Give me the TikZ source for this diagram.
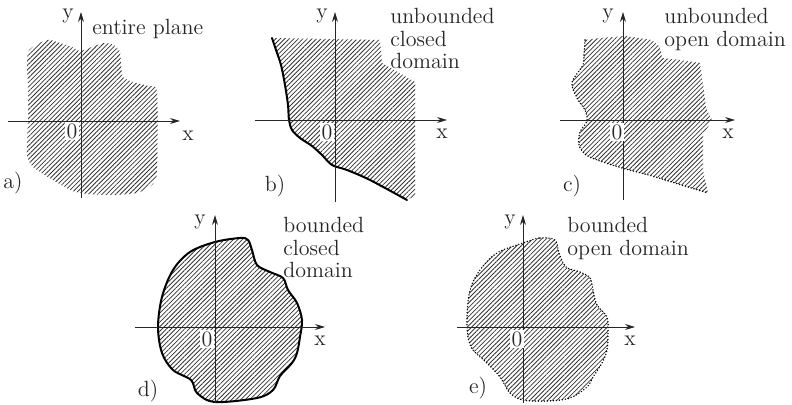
\documentclass[tikz,border=0pt]{standalone}
\usepackage{tikz}
\usetikzlibrary{arrows.meta,patterns.meta}
\tikzset{
  axisline/.style={-{Stealth[length=5pt,width=3pt]}, line width=0.45pt, draw=black!85},
  hatch/.style={pattern={Lines[angle=45,distance=1.6pt,line width=0.4pt]}, pattern color=black!80},
  rim/.style={line width=1pt, line join=round, line cap=round},
  dotrim/.style={line width=0.8pt, dash pattern=on 0pt off 1.5pt, line cap=round},
  lbl/.style={font=\fontsize{11}{11.3}\selectfont, inner sep=0pt, text=black!85},
  zero/.style={lbl, fill=white, inner sep=0.6pt},
  note/.style={lbl, align=left, anchor=north west}
}

\begin{document}
\begin{tikzpicture}[x=0.5pt, y=-0.5pt]
  \useasboundingbox (0,0) rectangle (792,405);
  % a) entire plane
  \fill[hatch] plot[smooth cycle, tension=0.4] coordinates {(28,52) (47,40) (60,43) (72,47) (80,51) (92,47) (104,43) (114,45) (120,52) (121,65) (123,77) (133,82) (148,86) (157,92) (157,170) (153,184) (137,193) (110,195) (87,194) (70,190) (48,177) (33,167) (27,155) (28,120) (28,90)};
  \coordinate (aW) at (8,121);   \coordinate (aE) at (180,121);
  \coordinate (aS) at (81,198);  \coordinate (aN) at (81,12);
  \draw[axisline] (aW) -- (aE);
  \draw[axisline] (aS) -- (aN);
  \node[lbl] (ay) at (68,16) {y};
  \node[lbl] (ax) at (188,136) {x};
  \node[zero] (a0) at (72,131) {0};
  \node[lbl] (atag) at (13,183) {a)};
  \node[lbl, anchor=base west] (atext) at (92,35) {entire plane};
  % b) unbounded closed domain
  \fill[hatch] plot[smooth, tension=0.5] coordinates {(272,38) (276,50) (281,65) (285,85) (288,105) (289,120) (292,130) (300,138) (312,146) (322,155) (332,165) (347,170) (370,180) (407,200)}
    -- (415,196) -- (415,82) -- (382,63) -- (380,40) -- cycle;
  \draw[rim] plot[smooth, tension=0.5] coordinates {(272,38) (276,50) (281,65) (285,85) (288,105) (289,120) (292,130) (300,138) (312,146) (322,155) (332,165) (347,170) (370,180) (407,200)};
  \coordinate (bW) at (255,120); \coordinate (bE) at (447,120);
  \coordinate (bS) at (335,202); \coordinate (bN) at (335,12);
  \draw[axisline] (bW) -- (bE);
  \draw[axisline] (bS) -- (bN);
  \node[lbl] (by) at (322,16) {y};
  \node[lbl] (bx) at (442,134) {x};
  \node[zero] (b0) at (327,132) {0};
  \node[lbl] (btag) at (275,186) {b)};
  \node[note] (btext) at (390,8) {unbounded\\closed\\domain};
  % c) unbounded open domain
  \fill[hatch] plot[smooth, tension=0.5] coordinates {(585,40) (584,55) (583,65) (574,78) (572,86) (578,100) (585,110) (587,121) (580,132) (579,145) (586,155) (600,161) (622,168) (652,176) (675,183) (708,193)}
    -- (703,170) -- (703,135) -- (712,120) -- (706,108) -- (703,83) -- (700,63) -- (680,60) -- (662,58) -- (660,47) -- (652,40) -- (625,36) -- (600,38) -- cycle;
  \draw[dotrim] plot[smooth, tension=0.5] coordinates {(585,40) (584,55) (583,65) (574,78) (572,86) (578,100) (585,110) (587,121) (580,132) (579,145) (586,155) (600,161) (622,168) (652,176) (675,183) (708,193)};
  \coordinate (cW) at (560,120); \coordinate (cE) at (735,120);
  \coordinate (cS) at (623,200); \coordinate (cN) at (623,12);
  \draw[axisline] (cW) -- (cE);
  \draw[axisline] (cS) -- (cN);
  \node[lbl] (cy) at (608,16) {y};
  \node[lbl] (cx) at (728,134) {x};
  \node[zero] (c0) at (617,132) {0};
  \node[lbl] (ctag) at (572,186) {c)};
  \node[note] (ctext) at (664,8) {unbounded\\open domain};
  % d) bounded closed domain
  \filldraw[hatch, rim] plot[smooth cycle, tension=0.55] coordinates {(215,242) (240,238) (248,240) (252,250) (257,265) (270,272) (283,278) (288,290) (297,303) (302,320) (300,337) (297,353) (292,363) (280,376) (273,390) (257,398) (215,402) (197,393) (191,380) (173,370) (162,353) (158,327) (162,297) (173,270) (190,252)};
  \coordinate (dW) at (135,327); \coordinate (dE) at (325,327);
  \coordinate (dS) at (215,403); \coordinate (dN) at (215,215);
  \draw[axisline] (dW) -- (dE);
  \draw[axisline] (dS) -- (dN);
  \node[lbl] (dy) at (200,222) {y};
  \node[lbl] (dx) at (320,341) {x};
  \node[zero] (d0) at (207,339) {0};
  \node[lbl] (dtag) at (148,391) {d)};
  \node[note] (dtext) at (283,217) {bounded\\closed\\domain};
  % e) bounded open domain
  \fill[hatch] plot[smooth cycle, tension=0.55] coordinates {(523,243) (540,238) (555,240) (559,253) (566,267) (580,272) (590,278) (593,290) (597,305) (607,317) (608,333) (607,350) (602,363) (593,377) (587,387) (570,398) (547,401) (523,400) (510,393) (500,377) (487,363) (473,350) (468,337) (467,317) (470,290) (480,270) (497,253)};
  \draw[dotrim] plot[smooth cycle, tension=0.55] coordinates {(523,243) (540,238) (555,240) (559,253) (566,267) (580,272) (590,278) (593,290) (597,305) (607,317) (608,333) (607,350) (602,363) (593,377) (587,387) (570,398) (547,401) (523,400) (510,393) (500,377) (487,363) (473,350) (468,337) (467,317) (470,290) (480,270) (497,253)};
  \coordinate (eW) at (457,327); \coordinate (eE) at (635,327);
  \coordinate (eS) at (523,403); \coordinate (eN) at (523,215);
  \draw[axisline] (eW) -- (eE);
  \draw[axisline] (eS) -- (eN);
  \node[lbl] (ey) at (510,222) {y};
  \node[lbl] (ex) at (630,341) {x};
  \node[zero] (e0) at (517,339) {0};
  \node[lbl] (etag) at (478,388) {e)};
  \node[note] (etext) at (567,217) {bounded\\open domain};
\end{tikzpicture}
\end{document}
